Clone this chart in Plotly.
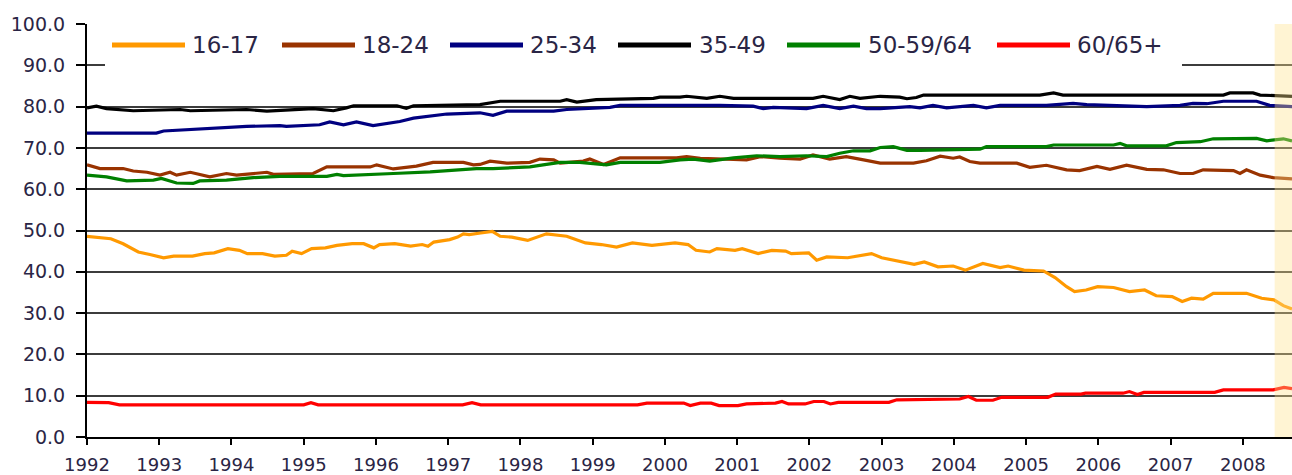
import plotly.graph_objects as go

# ---------------- data (decimal years, percent) ----------------
years = list(range(1992, 2009))
year_labels = [str(y) for y in years]
y_ticks = [0, 10, 20, 30, 40, 50, 60, 70, 80, 90, 100]
y_tick_labels = ["%.1f" % v for v in y_ticks]

series_names = ["16-17", "18-24", "25-34", "35-49", "50-59/64", "60/65+"]

t_16_17 = [1992.0,1992.33,1992.5,1992.71,1992.87,1993.06,1993.2,1993.46,1993.63,1993.76,1993.95,1994.11,1994.22,1994.43,1994.6,1994.76,1994.84,1994.97,1995.11,1995.3,1995.46,1995.67,1995.83,1995.97,1996.05,1996.26,1996.48,1996.64,1996.72,1996.8,1997.02,1997.13,1997.21,1997.29,1997.45,1997.61,1997.72,1997.88,1998.1,1998.36,1998.64,1998.9,1999.12,1999.33,1999.55,1999.82,2000.14,2000.32,2000.43,2000.62,2000.72,2000.97,2001.07,2001.29,2001.48,2001.67,2001.75,2001.99,2002.1,2002.24,2002.53,2002.86,2003.0,2003.24,2003.45,2003.59,2003.78,2003.99,2004.16,2004.4,2004.64,2004.75,2004.97,2005.24,2005.4,2005.56,2005.67,2005.83,2005.99,2006.21,2006.43,2006.64,2006.8,2007.02,2007.16,2007.29,2007.45,2007.59,2008.05,2008.26,2008.43,2008.56,2008.68]
v_16_17 = [48.6,48.0,46.8,44.8,44.2,43.4,43.8,43.8,44.4,44.6,45.6,45.2,44.4,44.4,43.8,44.0,45.0,44.4,45.6,45.8,46.4,46.8,46.8,45.8,46.6,46.8,46.2,46.6,46.2,47.2,47.8,48.4,49.2,49.0,49.4,49.8,48.6,48.4,47.6,49.2,48.6,47.0,46.6,46.0,47.0,46.4,47.0,46.6,45.2,44.8,45.6,45.2,45.6,44.4,45.2,45.0,44.4,44.6,42.8,43.6,43.4,44.4,43.4,42.6,41.8,42.4,41.2,41.4,40.4,42.0,41.0,41.4,40.4,40.2,38.6,36.4,35.2,35.6,36.4,36.2,35.2,35.6,34.2,34.0,32.8,33.6,33.4,34.8,34.8,33.6,33.2,31.8,31.0]

t_18_24 = [1992.0,1992.18,1992.5,1992.64,1992.83,1993.01,1993.15,1993.24,1993.43,1993.7,1993.93,1994.07,1994.49,1994.58,1995.13,1995.32,1995.92,1996.01,1996.24,1996.56,1996.79,1997.21,1997.35,1997.44,1997.58,1997.81,1998.13,1998.27,1998.46,1998.55,1998.87,1998.96,1999.15,1999.38,2000.16,2000.3,2000.49,2001.13,2001.32,2001.59,2001.87,2002.05,2002.28,2002.51,2002.75,2002.98,2003.44,2003.62,2003.81,2003.99,2004.08,2004.22,2004.36,2004.87,2005.05,2005.28,2005.56,2005.74,2005.98,2006.16,2006.39,2006.67,2006.9,2007.13,2007.31,2007.45,2007.87,2007.96,2008.05,2008.24,2008.42,2008.68]
v_18_24 = [65.9,65.0,65.0,64.4,64.1,63.4,64.1,63.4,64.1,63.0,63.8,63.4,64.1,63.6,63.8,65.4,65.4,65.9,64.9,65.6,66.5,66.5,65.9,66.0,66.8,66.3,66.5,67.3,67.1,66.3,66.8,67.3,66.0,67.6,67.6,67.9,67.5,67.1,67.9,67.5,67.3,68.3,67.3,67.9,67.1,66.3,66.3,66.9,68.0,67.5,67.8,66.7,66.3,66.3,65.3,65.8,64.7,64.5,65.5,64.8,65.8,64.8,64.7,63.8,63.8,64.7,64.5,63.8,64.7,63.4,62.8,62.5]

t_25_34 = [1992.0,1992.96,1993.06,1993.75,1993.84,1994.21,1994.67,1994.76,1995.22,1995.36,1995.55,1995.73,1995.96,1996.05,1996.33,1996.52,1996.79,1996.98,1997.44,1997.62,1997.81,1998.46,1998.64,1999.24,1999.38,2000.21,2000.76,2001.22,2001.36,2001.5,2001.96,2002.19,2002.42,2002.61,2002.79,2002.98,2003.39,2003.53,2003.71,2003.9,2004.08,2004.27,2004.45,2004.64,2005.28,2005.65,2005.84,2006.21,2006.67,2007.13,2007.31,2007.5,2007.73,2008.19,2008.37,2008.68]
v_25_34 = [73.6,73.6,74.1,74.8,75.0,75.2,75.4,75.2,75.6,76.3,75.6,76.3,75.4,75.6,76.4,77.2,77.9,78.2,78.5,77.9,78.9,78.9,79.3,79.8,80.3,80.3,80.3,80.1,79.5,79.8,79.5,80.3,79.5,80.1,79.5,79.5,80.0,79.7,80.3,79.7,80.0,80.3,79.7,80.3,80.3,80.8,80.5,80.3,80.0,80.3,80.8,80.7,81.3,81.3,80.3,80.0]

t_35_49 = [1992.0,1992.13,1992.27,1992.64,1993.29,1993.43,1994.21,1994.49,1995.13,1995.41,1995.59,1995.69,1996.29,1996.42,1996.52,1997.12,1997.44,1997.72,1998.55,1998.64,1998.78,1999.05,1999.84,1999.93,2000.21,2000.3,2000.58,2000.76,2000.95,2002.05,2002.19,2002.42,2002.56,2002.7,2002.98,2003.25,2003.35,2003.48,2003.58,2005.19,2005.38,2005.51,2007.73,2007.82,2008.14,2008.24,2008.68]
v_35_49 = [79.7,80.1,79.5,79.0,79.3,79.0,79.3,78.9,79.5,79.0,79.7,80.2,80.2,79.6,80.2,80.5,80.5,81.3,81.3,81.7,81.1,81.7,82.0,82.3,82.3,82.5,82.0,82.5,82.0,82.0,82.5,81.7,82.5,82.0,82.5,82.3,81.9,82.2,82.8,82.8,83.3,82.8,82.8,83.3,83.3,82.8,82.5]

t_50_64 = [1992.0,1992.27,1992.55,1992.92,1993.03,1993.24,1993.47,1993.56,1993.93,1994.3,1994.67,1995.32,1995.46,1995.55,1996.24,1996.75,1997.39,1997.62,1997.9,1998.13,1998.36,1998.55,1998.82,1999.19,1999.38,1999.93,2000.21,2000.39,2000.62,2000.95,2001.27,2001.59,2001.96,2002.24,2002.42,2002.61,2002.84,2002.98,2003.16,2003.35,2003.53,2004.36,2004.45,2005.28,2005.38,2006.21,2006.3,2006.39,2006.94,2007.08,2007.41,2007.59,2008.19,2008.33,2008.56,2008.68]
v_50_64 = [63.4,63.0,62.0,62.2,62.6,61.5,61.4,62.0,62.2,62.8,63.1,63.1,63.6,63.3,63.8,64.2,65.0,65.0,65.2,65.4,66.0,66.5,66.5,65.9,66.5,66.5,67.1,67.3,66.8,67.6,68.1,67.9,68.1,67.9,68.7,69.3,69.3,70.1,70.3,69.4,69.4,69.7,70.3,70.3,70.7,70.7,71.1,70.5,70.5,71.3,71.5,72.2,72.3,71.7,72.2,71.7]

t_60_65 = [1992.0,1992.3,1992.45,1995.0,1995.1,1995.2,1997.2,1997.33,1997.45,1999.62,1999.75,2000.26,2000.35,2000.49,2000.64,2000.75,2001.01,2001.13,2001.53,2001.62,2001.71,2001.94,2002.06,2002.2,2002.29,2002.4,2003.1,2003.21,2004.08,2004.2,2004.31,2004.54,2004.66,2005.3,2005.41,2005.76,2005.82,2006.34,2006.43,2006.54,2006.63,2007.61,2007.73,2008.42,2008.57,2008.68]
v_60_65 = [8.4,8.3,7.8,7.8,8.3,7.8,7.8,8.3,7.8,7.8,8.2,8.2,7.6,8.2,8.2,7.6,7.6,8.0,8.2,8.6,8.0,8.0,8.6,8.6,8.0,8.4,8.4,9.0,9.2,9.8,8.9,8.9,9.6,9.6,10.4,10.4,10.6,10.6,11.0,10.3,10.8,10.8,11.4,11.4,12.0,11.7]

x_start = 1992.0
x_end = 2008.68
shade_start = 2008.44

# ---------------- styling ----------------
colors = ["#FF9900", "#993300", "#000080", "#000000", "#008000", "#FF0000"]
all_t = [t_16_17, t_18_24, t_25_34, t_35_49, t_50_64, t_60_65]
all_v = [v_16_17, v_18_24, v_25_34, v_35_49, v_50_64, v_60_65]

W, H = 1292, 475
ML, MR, MT, MB = 87, 0, 24, 36
PW = W - ML - MR
PH = H - MT - MB

def px_x(p):
    return (p - ML) / PW

def px_y(p):
    return (H - MB - p) / PH

fig = go.Figure()
for name, t, v, c in zip(series_names, all_t, all_v, colors):
    fig.add_trace(go.Scatter(x=t, y=v, mode="lines", name=name,
                             line=dict(color=c, width=3.2), showlegend=False))

text_color = "#2a2545"
font_family = "DejaVu Sans"

shapes = []
# shaded recent period band
shapes.append(dict(type="rect", xref="x", yref="paper", x0=shade_start, x1=x_end,
                   y0=0, y1=1, fillcolor="rgba(255,226,140,0.38)", line=dict(width=0),
                   layer="above"))
# white legend box (hides the 90 gridline)
shapes.append(dict(type="rect", xref="paper", yref="paper",
                   x0=px_x(105), x1=px_x(1182), y0=px_y(72), y1=px_y(28),
                   fillcolor="white", line=dict(width=0), layer="above"))

legend_line_x = [112, 282, 450, 618, 787, 997]
legend_text_x = [190, 360, 528, 697, 866, 1075]
legend_y = 45
annotations = []
for name, c, lx, tx in zip(series_names, colors, legend_line_x, legend_text_x):
    shapes.append(dict(type="line", xref="paper", yref="paper",
                       x0=px_x(lx), x1=px_x(lx + 73), y0=px_y(legend_y), y1=px_y(legend_y),
                       line=dict(color=c, width=5), layer="above"))
    annotations.append(dict(xref="paper", yref="paper", x=px_x(tx), y=px_y(legend_y),
                            xanchor="left", yanchor="middle", text=name, showarrow=False,
                            font=dict(family=font_family, size=23, color=text_color)))

fig.update_layout(
    width=W, height=H,
    margin=dict(l=ML, r=MR, t=MT, b=MB, pad=0),
    paper_bgcolor="white", plot_bgcolor="white",
    shapes=shapes, annotations=annotations,
    showlegend=False,
    xaxis=dict(range=[x_start, x_end], tickmode="array", tickvals=years, ticktext=year_labels,
               showgrid=False, zeroline=False, showline=True, linecolor="black", linewidth=2,
               ticks="outside", ticklen=6, tickwidth=2, tickcolor="black",
               ticklabelstandoff=4,
               tickfont=dict(family=font_family, size=18, color=text_color)),
    yaxis=dict(range=[0, 100], tickmode="array", tickvals=y_ticks, ticktext=y_tick_labels,
               showgrid=True, gridcolor="#3c3c3c", gridwidth=2, zeroline=False,
               showline=True, linecolor="black", linewidth=2,
               ticks="outside", ticklen=9, tickwidth=2, tickcolor="black",
               ticklabelstandoff=7,
               tickfont=dict(family=font_family, size=19, color=text_color)),
)

fig.write_html("out.html",
               config={"displayModeBar": False},
               post_script="document.body.style.margin='0';document.body.style.padding='0';document.body.style.overflow='hidden';")
